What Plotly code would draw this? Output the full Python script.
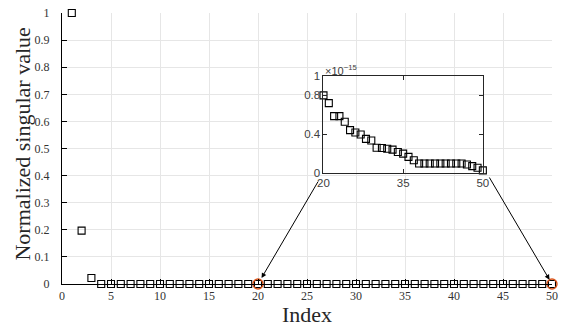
import plotly.graph_objects as go

# ---- data ----
index_all = list(range(1, 51))
# normalized singular values for index 1..19
values_head = [1.0, 0.197, 0.022, 0.0, 0.0, 0.0, 0.0, 0.0, 0.0, 0.0,
               0.0, 0.0, 0.0, 0.0, 0.0, 0.0, 0.0, 0.0, 0.0]
# zoomed values for index 20..50, in units of 1e-15
inset_index = list(range(20, 51))
inset_values = [0.80, 0.72, 0.585, 0.585, 0.527, 0.44, 0.415, 0.395, 0.35, 0.333,
                0.258, 0.255, 0.248, 0.238, 0.214, 0.197, 0.163, 0.129, 0.095, 0.095,
                0.095, 0.095, 0.095, 0.095, 0.095, 0.095, 0.095, 0.085, 0.068, 0.051,
                0.023]
inset_scale = 1e-15
highlight_index = [20, 50]

main_values = values_head + [v * inset_scale for v in inset_values]
highlight_values = [main_values[i - 1] for i in highlight_index]

main_xticks = list(range(0, 51, 5))
main_yticks = [0, 0.1, 0.2, 0.3, 0.4, 0.5, 0.6, 0.7, 0.8, 0.9, 1]
inset_xticks = [20, 35, 50]
inset_yticks = [0, 0.4, 0.8, 1]

W, H = 564, 331
ML, MR, MT, MB = 62, 6, 9, 47
PW, PH = W - ML - MR, H - MT - MB

def px_x(p):
    return (p - ML) / PW

def px_y(p):
    return (H - MB - p) / PH

serif = "Liberation Serif, Times New Roman, serif"
sans = "Liberation Sans, Arial, sans-serif"

fig = go.Figure()
fig.add_trace(go.Scatter(
    x=index_all, y=main_values, mode="markers",
    marker=dict(symbol="square-open", size=7, color="black", line=dict(width=1.1, color="black")),
    cliponaxis=False, showlegend=False, xaxis="x", yaxis="y"))
fig.add_trace(go.Scatter(
    x=highlight_index, y=highlight_values, mode="markers",
    marker=dict(symbol="circle-open", size=10, color="#D95319", line=dict(width=1.4, color="#D95319")),
    cliponaxis=False, showlegend=False, xaxis="x", yaxis="y"))
fig.add_trace(go.Scatter(
    x=inset_index, y=inset_values, mode="markers",
    marker=dict(symbol="square-open", size=7, color="black", line=dict(width=1.1, color="black")),
    cliponaxis=False, showlegend=False, xaxis="x2", yaxis="y2"))

fig.update_layout(
    width=W, height=H,
    margin=dict(l=ML, r=MR, t=MT, b=MB),
    paper_bgcolor="white", plot_bgcolor="rgba(0,0,0,0)",
    xaxis=dict(range=[0, 50], tickvals=main_xticks, ticks="inside", ticklen=5,
               tickcolor="black", showline=True, linecolor="black", linewidth=1,
               showgrid=True, gridcolor="#e6e6e6", gridwidth=1, zeroline=False,
               tickfont=dict(family=serif, size=12, color="#333333"),
               ticklabelstandoff=1,
               domain=[0, 1], anchor="y"),
    yaxis=dict(range=[0, 1], tickvals=main_yticks, ticks="inside", ticklen=5,
               tickcolor="black", showline=True, linecolor="black", linewidth=1,
               showgrid=True, gridcolor="#e6e6e6", gridwidth=1, zeroline=False,
               tickfont=dict(family=serif, size=12, color="#333333"),
               ticklabelstandoff=9,
               domain=[0, 1], anchor="x"),
    xaxis2=dict(range=[20, 50], tickvals=inset_xticks, ticks="inside", ticklen=4,
                tickcolor="#262626", showline=True, mirror="ticks", linecolor="#262626",
                linewidth=1, showgrid=False, zeroline=False,
                tickfont=dict(family=sans, size=11.5, color="#404040"),
                domain=[px_x(326.7), px_x(488)], anchor="y2"),
    yaxis2=dict(range=[0, 1], tickvals=inset_yticks, ticktext=["0", "0.4", "0.8", "1"],
                ticks="inside", ticklen=4,
                tickcolor="#262626", showline=True, mirror="ticks", linecolor="#262626",
                linewidth=1, showgrid=False, zeroline=False,
                tickfont=dict(family=sans, size=11.5, color="#404040"),
                domain=[px_y(171), px_y(73)], anchor="x2"),
)

# axis titles
fig.add_annotation(text="Index", xref="paper", yref="paper", x=px_x(310), y=px_y(315),
                   xanchor="center", yanchor="middle", showarrow=False,
                   font=dict(family=serif, size=22, color="#262626"))
fig.add_annotation(text="Normalized singular value", xref="paper", yref="paper",
                   x=px_x(22), y=px_y(142), textangle=-90,
                   xanchor="center", yanchor="middle", showarrow=False,
                   font=dict(family=serif, size=22, color="#262626"))
# exponent label of inset
fig.add_annotation(text="×10<sup>−15</sup>", xref="x2 domain", yref="y2 domain", x=0, y=1,
                   xanchor="left", yanchor="bottom", showarrow=False, yshift=-3,
                   font=dict(family=sans, size=11, color="#404040"))

# arrows from inset corners to highlighted points
fig.add_annotation(x=highlight_index[0], y=highlight_values[0], xref="x", yref="y",
                   ax=61, ay=-104, axref="pixel", ayref="pixel", text="",
                   showarrow=True, arrowhead=2, arrowsize=1, arrowwidth=1,
                   arrowcolor="black", standoff=7)
fig.add_annotation(x=highlight_index[1], y=highlight_values[1], xref="x", yref="y",
                   ax=-63.5, ay=-108, axref="pixel", ayref="pixel", text="",
                   showarrow=True, arrowhead=2, arrowsize=1, arrowwidth=1,
                   arrowcolor="black", standoff=5)

fig.write_html(
    "out.html",
    config={"displayModeBar": False},
    post_script="document.body.style.margin='0px';document.documentElement.style.overflow='hidden';",
)
